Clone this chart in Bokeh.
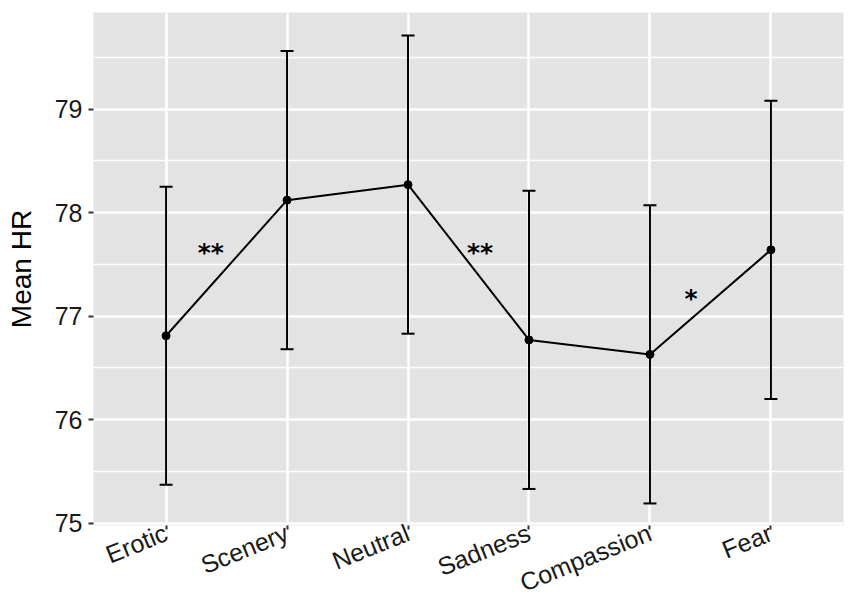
import math
from bokeh.plotting import figure
from bokeh.models import ColumnDataSource, Whisker, TeeHead, FixedTicker, Range1d
from bokeh.embed import file_html
from bokeh.resources import INLINE
from bokeh.core.properties import value

conditions = ["Erotic", "Scenery", "Neutral", "Sadness", "Compassion", "Fear"]
mean_hr = [76.81, 78.12, 78.27, 76.77, 76.63, 77.64]
upper_hr = [78.25, 79.56, 79.71, 78.21, 78.07, 79.08]
lower_hr = [75.37, 76.68, 76.83, 75.33, 75.19, 76.20]
sig_labels = ["**", "**", "*"]
sig_x = [1.37, 3.595, 5.34]
sig_y = [77.66, 77.66, 77.22]
y_ticks = [75, 76, 77, 78, 79]
y_minor = [75.5, 76.5, 77.5, 78.5, 79.5]

xpos = list(range(1, len(conditions) + 1))
src = ColumnDataSource(dict(x=xpos, y=mean_hr, upper=upper_hr, lower=lower_hr))

Y0, Y1 = 74.977, 79.933
p = figure(width=849, height=612, output_backend="svg", toolbar_location=None,
           x_range=Range1d(0.4, 6.6), y_range=Range1d(Y0, Y1),
           min_border_left=93, min_border_right=6, min_border_top=12, min_border_bottom=87)
p.background_fill_color = "#E3E3E3"
p.border_fill_color = "white"
p.outline_line_color = None

# grid
p.xgrid.ticker = FixedTicker(ticks=xpos)
p.xgrid.grid_line_color = "white"
p.xgrid.grid_line_width = 2.5
p.ygrid.ticker = FixedTicker(ticks=y_ticks, minor_ticks=y_minor)
p.ygrid.grid_line_color = "white"
p.ygrid.grid_line_width = 2.5
p.ygrid.minor_grid_line_color = "white"
p.ygrid.minor_grid_line_width = 1.3

# x axis
p.xaxis.ticker = FixedTicker(ticks=xpos)
p.xaxis.major_label_overrides = {i: c for i, c in zip(xpos, conditions)}
p.xaxis.major_label_orientation = math.radians(22)
p.xaxis.major_label_text_font = "Liberation Sans"
p.xaxis.major_label_text_font_size = "25px"
p.xaxis.major_label_text_color = "#1a1a1a"
p.xaxis.major_label_standoff = 2
p.xaxis.major_tick_out = 4
p.xaxis.major_tick_in = 0
p.xaxis.minor_tick_line_color = None
p.xaxis.axis_line_color = None
p.xaxis.major_tick_line_color = "#333333"
p.xaxis.major_tick_line_width = 2

p.yaxis.ticker = FixedTicker(ticks=y_ticks)
p.yaxis.major_label_text_font = "Liberation Sans"
p.yaxis.major_label_text_font_size = "25px"
p.yaxis.major_label_text_color = "#1a1a1a"
p.yaxis.major_label_standoff = 6
p.yaxis.major_tick_out = 5
p.yaxis.major_tick_in = 0
p.yaxis.minor_tick_line_color = None
p.yaxis.axis_line_color = None
p.yaxis.major_tick_line_color = "#333333"
p.yaxis.major_tick_line_width = 2
p.yaxis.axis_label = "Mean HR"
p.yaxis.axis_label_text_font = "Liberation Sans"
p.yaxis.axis_label_text_font_size = "28px"
p.yaxis.axis_label_text_font_style = "normal"
p.yaxis.axis_label_text_color = "black"
p.yaxis.axis_label_standoff = 15

# error bars
w = Whisker(source=src, base="x", upper="upper", lower="lower", dimension="height",
            line_color="black", line_width=2,
            upper_head=TeeHead(size=13, line_color="black", line_width=2),
            lower_head=TeeHead(size=13, line_color="black", line_width=2))
p.add_layout(w)

p.line("x", "y", source=src, line_color="black", line_width=2)
p.scatter("x", "y", source=src, size=8, color="black")

sig_src = ColumnDataSource(dict(x=sig_x, y=sig_y, t=sig_labels))
p.text("x", "y", text="t", source=sig_src, text_font=value("DejaVu Sans"),
       text_font_size="25px", text_font_style="bold", text_align="center",
       text_baseline="middle", y_offset=5, text_color="black")

open("out.html", "w").write(file_html(p, INLINE))
